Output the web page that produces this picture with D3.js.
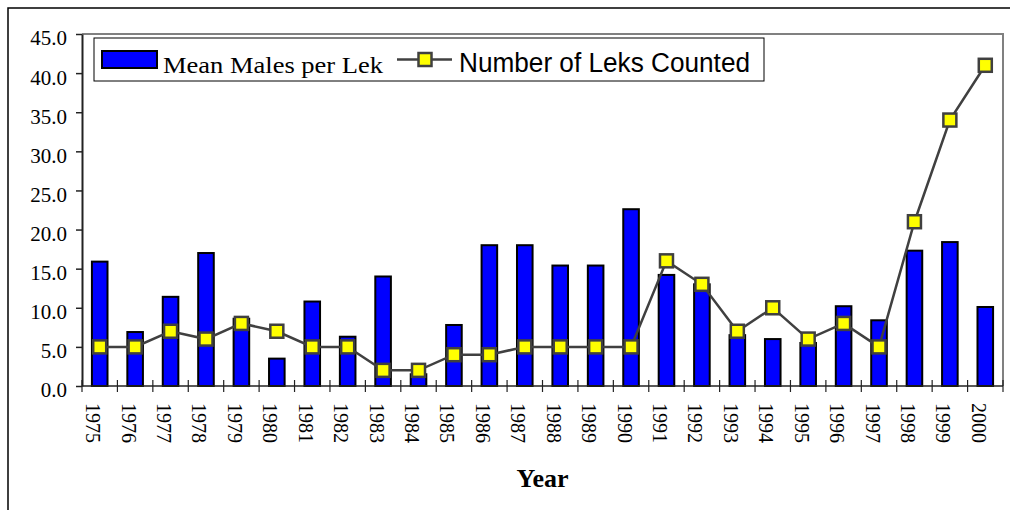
<!DOCTYPE html>
<html>
<head>
<meta charset="utf-8">
<script src="https://cdn.jsdelivr.net/npm/d3@7"></script>
<style>
  body { margin: 0; background: #fff; }
  svg { display: block; }
  .serif { font-family: "Liberation Serif", "Times New Roman", Times, serif; }
  .sans { font-family: "Liberation Sans", Arial, Helvetica, sans-serif; }
</style>
</head>
<body>
<div id="chart"></div>
<script>
// Chart data
const years = ["1975", "1976", "1977", "1978", "1979", "1980", "1981", "1982", "1983", "1984", "1985", "1986", "1987",
               "1988", "1989", "1990", "1991", "1992", "1993", "1994", "1995", "1996", "1997", "1998", "1999", "2000"];
const meanMales = [15.9, 6.9, 11.4, 17.0, 8.6, 3.5, 10.8, 6.3, 14.0, 1.5, 7.8, 18.0, 18.0,
                   15.4, 15.4, 22.6, 14.2, 13.0, 6.5, 6.0, 5.5, 10.2, 8.4, 17.3, 18.4, 10.1];
const leksCounted = [5, 5, 7, 6, 8, 7, 5, 5, 2, 2, 4, 4, 5,
                     5, 5, 5, 16, 13, 7, 10, 6, 8, 5, 21, 34, 41];
const yTicks = [0, 5, 10, 15, 20, 25, 30, 35, 40, 45];

// SVG area
const svgWidth = 1010;
const svgHeight = 510;

// Plot area
const plot = { left: 82, right: 1003, top: 34, bottom: 386 };

const svg = d3.select("#chart")
    .append("svg")
    .attr("width", svgWidth)
    .attr("height", svgHeight);

svg.append("rect")
    .attr("width", svgWidth)
    .attr("height", svgHeight)
    .attr("fill", "#fff");

// Outer frame (top and left edge only visible)
svg.append("path")
    .attr("d", `M8,${svgHeight} L8,8 L${svgWidth},8`)
    .attr("fill", "none")
    .attr("stroke", "#000")
    .attr("stroke-width", 1.5);

// Scales
const xScale = d3.scaleBand()
    .domain(years)
    .range([plot.left, plot.right])
    .paddingInner(0.56)
    .paddingOuter(0.28);

const step = xScale.step();
const xCenter = d => xScale(d) + xScale.bandwidth() / 2;

const yScale = d3.scaleLinear()
    .domain([0, 45])
    .range([plot.bottom, plot.top]);

// Plot frame, gray top and right edges
svg.append("path")
    .attr("d", `M${plot.left},${plot.top} L${plot.right},${plot.top} L${plot.right},${plot.bottom}`)
    .attr("fill", "none")
    .attr("stroke", "#808080")
    .attr("stroke-width", 2);

// Bars
svg.selectAll(".bar")
    .data(years)
    .enter()
    .append("rect")
    .attr("class", "bar")
    .attr("x", d => xScale(d))
    .attr("width", xScale.bandwidth())
    .attr("y", (d, i) => yScale(meanMales[i]))
    .attr("height", (d, i) => yScale(0) - yScale(meanMales[i]))
    .attr("fill", "#0000ff")
    .attr("stroke", "#000")
    .attr("stroke-width", 2);

// Y axis
const leftAxis = d3.axisLeft(yScale)
    .tickValues(yTicks)
    .tickFormat(d3.format(".1f"))
    .tickSizeInner(6)
    .tickSizeOuter(0)
    .tickPadding(9);

const yAxisG = svg.append("g")
    .attr("transform", `translate(${plot.left},0)`)
    .call(leftAxis)
    .attr("font-family", null)
    .attr("font-size", null);

yAxisG.select(".domain")
    .attr("stroke", "#222")
    .attr("stroke-width", 2);

yAxisG.selectAll(".tick line")
    .attr("stroke", "#222")
    .attr("stroke-width", 1.5);

yAxisG.selectAll(".tick text")
    .attr("class", "serif")
    .style("font-size", "21px")
    .attr("fill", "#000")
    .attr("dy", "0.52em");

// X axis line and category boundary ticks
svg.append("line")
    .attr("x1", plot.left)
    .attr("x2", plot.right)
    .attr("y1", plot.bottom)
    .attr("y2", plot.bottom)
    .attr("stroke", "#222")
    .attr("stroke-width", 1.5);

svg.selectAll(".xtick")
    .data(d3.range(years.length + 1))
    .enter()
    .append("line")
    .attr("class", "xtick")
    .attr("x1", i => plot.left + i * step)
    .attr("x2", i => plot.left + i * step)
    .attr("y1", plot.bottom - 6)
    .attr("y2", plot.bottom + 6)
    .attr("stroke", "#222")
    .attr("stroke-width", 1.2);

// Rotated year labels, reading downward
svg.selectAll(".xlabel")
    .data(years)
    .enter()
    .append("text")
    .attr("class", "serif")
    .attr("transform", d => `translate(${xCenter(d) - 13.5},403) rotate(90)`)
    .style("font-size", "20px")
    .attr("fill", "#000")
    .attr("text-anchor", "start")
    .text(d => d);

// Line for number of leks
const line = d3.line()
    .x((d, i) => xCenter(years[i]))
    .y(d => yScale(d));

svg.append("path")
    .datum(leksCounted)
    .attr("d", line)
    .attr("fill", "none")
    .attr("stroke", "#404040")
    .attr("stroke-width", 2.5);

svg.selectAll(".marker")
    .data(leksCounted)
    .enter()
    .append("rect")
    .attr("class", "marker")
    .attr("x", (d, i) => xCenter(years[i]) - 6.5)
    .attr("y", d => yScale(d) - 6.5)
    .attr("width", 13)
    .attr("height", 13)
    .attr("fill", "#ffff00")
    .attr("stroke", "#404040")
    .attr("stroke-width", 2.5);

// Legend
const legend = svg.append("g");

legend.append("rect")
    .attr("x", 94)
    .attr("y", 38)
    .attr("width", 670)
    .attr("height", 43)
    .attr("fill", "#fff")
    .attr("stroke", "#000")
    .attr("stroke-width", 1);

legend.append("rect")
    .attr("x", 102)
    .attr("y", 51)
    .attr("width", 55)
    .attr("height", 17)
    .attr("fill", "#0000ff")
    .attr("stroke", "#000")
    .attr("stroke-width", 2);

legend.append("text")
    .attr("class", "serif")
    .attr("x", 163)
    .attr("y", 73)
    .style("font-size", "23px")
    .attr("textLength", 220)
    .attr("lengthAdjust", "spacingAndGlyphs")
    .attr("fill", "#000")
    .text("Mean Males per Lek");

legend.append("line")
    .attr("x1", 397)
    .attr("x2", 452)
    .attr("y1", 59.5)
    .attr("y2", 59.5)
    .attr("stroke", "#404040")
    .attr("stroke-width", 2.5);

legend.append("rect")
    .attr("x", 418.5)
    .attr("y", 53)
    .attr("width", 13)
    .attr("height", 13)
    .attr("fill", "#ffff00")
    .attr("stroke", "#404040")
    .attr("stroke-width", 2.5);

legend.append("text")
    .attr("class", "sans")
    .attr("x", 459)
    .attr("y", 72)
    .style("font-size", "27px")
    .attr("textLength", 291)
    .attr("lengthAdjust", "spacingAndGlyphs")
    .attr("fill", "#000")
    .text("Number of Leks Counted");

// X axis title
svg.append("text")
    .attr("class", "serif")
    .attr("x", 542.5)
    .attr("y", 487)
    .attr("text-anchor", "middle")
    .style("font-size", "26px")
    .style("font-weight", "bold")
    .attr("fill", "#000")
    .text("Year");
</script>
</body>
</html>
